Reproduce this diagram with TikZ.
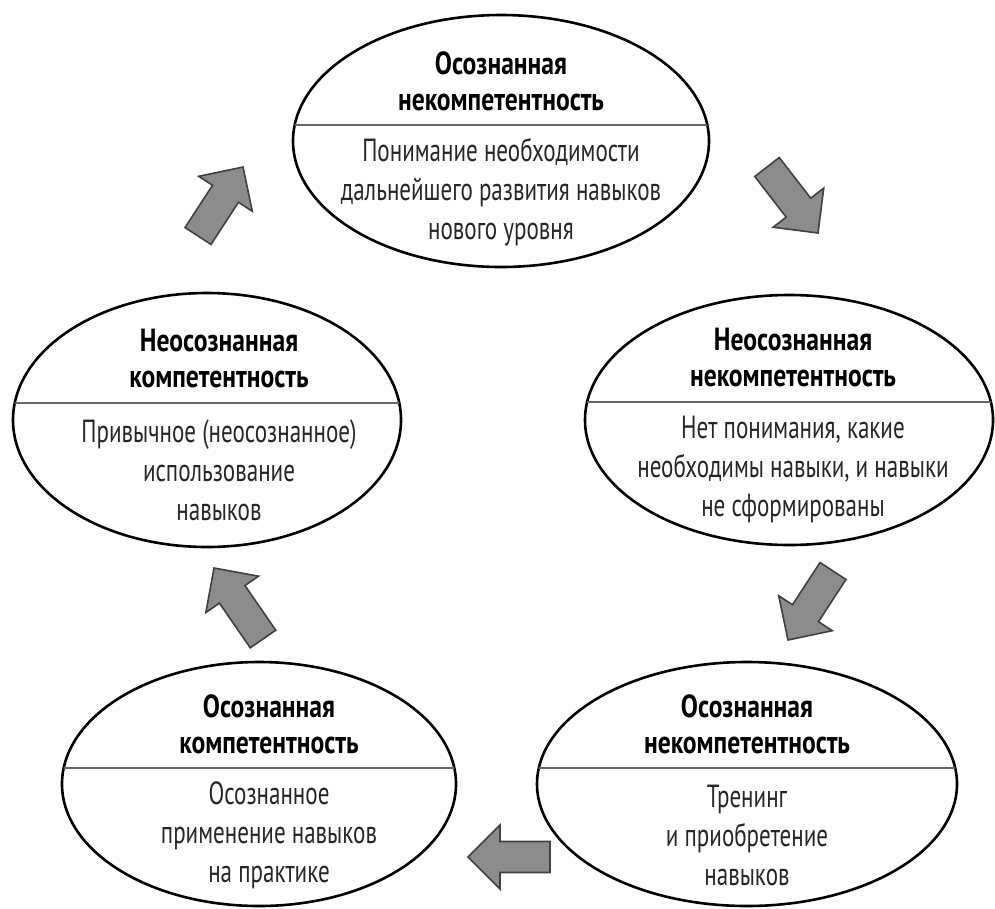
\documentclass[tikz,border=0pt]{standalone}
\usepackage{fontspec}
\setmainfont{PT Sans}[FakeStretch=0.72, BoldFeatures={FakeStretch=0.8}]
\usetikzlibrary{shapes.geometric,calc}

\tikzset{
  stage/.style={draw=black, line width=2.6pt, ellipse, inner sep=0pt},
  divider/.style={draw=black!60, line width=2.2pt},
  headtext/.style={font=\bfseries\fontsize{32}{36}\selectfont, align=center, text=black, inner sep=0pt},
  bodytext/.style={font=\fontsize{32}{39}\selectfont, align=center, text=black!85, inner sep=0pt},
  blockarrow/.style={fill=black!45, draw=black!75, line width=1.6pt, line join=miter},
}

% #1 name, #2 #3 centre, #4 #5 radii, #6 divider offset, #7 text shift,
% #8 heading, #9 description
\newcommand\stagebox[9]{%
  \node[stage, minimum width={2*#4pt}, minimum height={2*#5pt}] (#1) at (#2,#3) {};
  \begin{scope}
    \clip (#1.center) ellipse [x radius=#4pt, y radius=#5pt];
    \draw[divider] ($(#1.center)+(-#4-5,#6)$) -- ($(#1.center)+(#4+5,#6)$);
  \end{scope}
  \node[headtext] (#1-head) at ($(#1.center)+(#7,#6-44)$) {#8};
  \node[bodytext] (#1-body) at ($(#1.center)+(#7,#6+67)$) {#9};
}

% thick block arrow from tail coordinate #1 to tip coordinate #2
\newcommand\flowarrow[2]{%
  \coordinate (#1-h) at ($(#2)!32pt!(#1)$);
  \path[blockarrow]
    ($(#1)!15.5pt!90:(#2)$) -- ($(#1-h)!15.5pt!90:(#2)$) -- ($(#1-h)!32pt!90:(#2)$)
    -- (#2)
    -- ($(#1-h)!32pt!-90:(#2)$) -- ($(#1-h)!15.5pt!-90:(#2)$) -- ($(#1)!15.5pt!-90:(#2)$)
    -- cycle;
}

\begin{document}
\begin{tikzpicture}[x=1pt, y=-1pt]
  \useasboundingbox (0,0) rectangle (995,908);

  \stagebox{top}{501}{141}{208}{126}{-16}{0}
    {Осознанная\\некомпетентность}
    {Понимание необходимости\\дальнейшего развития навыков\\нового уровня}
  \stagebox{left}{207}{420}{194}{127}{-17}{12}
    {Неосознанная\\компетентность}
    {Привычное (неосознанное)\\использование\\навыков}
  \stagebox{right}{789}{420}{204}{125}{-18}{4}
    {Неосознанная\\некомпетентность}
    {Нет понимания, какие\\необходимы навыки, и навыки\\не сформированы}
  \stagebox{botleft}{259}{784}{197}{122}{-16}{10}
    {Осознанная\\компетентность}
    {Осознанное\\применение навыков\\на практике}
  \stagebox{botright}{747}{784}{210}{122}{-16}{0}
    {Осознанная\\некомпетентность}
    {Тренинг\\и приобретение\\навыков}

  \coordinate (a1t) at (198,236); \coordinate (a1p) at (243,167);
  \coordinate (a2t) at (767,167); \coordinate (a2p) at (818,233);
  \coordinate (a3t) at (833,571); \coordinate (a3p) at (788,640);
  \coordinate (a4t) at (263,639); \coordinate (a4p) at (214,568);
  \coordinate (a5t) at (550,857); \coordinate (a5p) at (468,857);

  \flowarrow{a1t}{a1p}
  \flowarrow{a2t}{a2p}
  \flowarrow{a3t}{a3p}
  \flowarrow{a4t}{a4p}
  \flowarrow{a5t}{a5p}
\end{tikzpicture}
\end{document}
